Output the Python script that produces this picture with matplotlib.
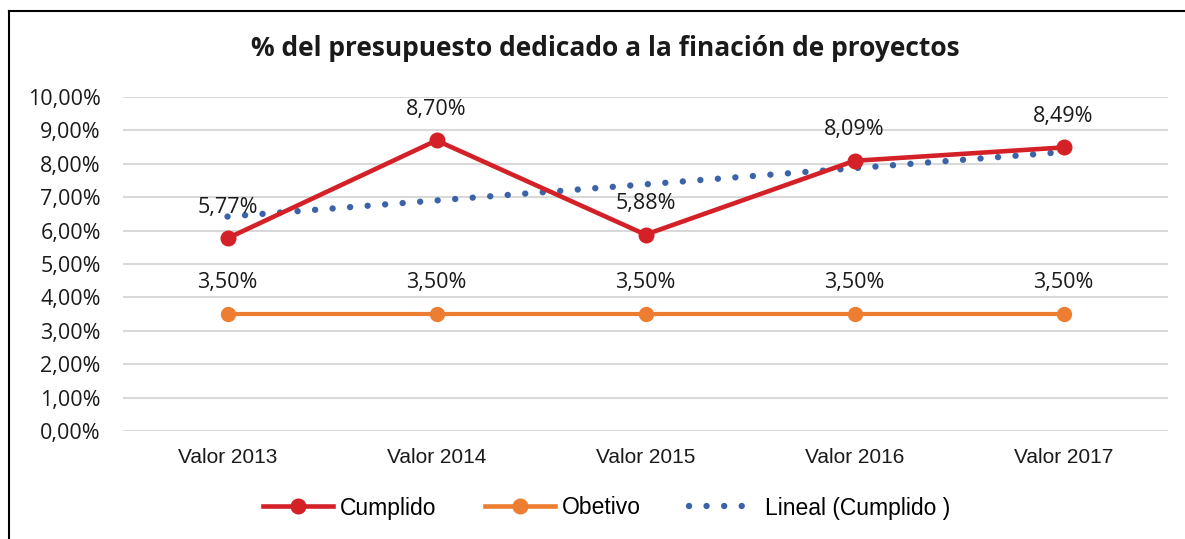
import numpy as np
import matplotlib
matplotlib.use("Agg")
import matplotlib.pyplot as plt
from matplotlib.lines import Line2D
from matplotlib.ticker import FuncFormatter

categories = ["Valor 2013", "Valor 2014", "Valor 2015", "Valor 2016", "Valor 2017"]
cumplido = [5.77, 8.70, 5.88, 8.09, 8.49]
objetivo = [3.50, 3.50, 3.50, 3.50, 3.50]
title = "% del presupuesto dedicado a la finación de proyectos"

RED = "#D42027"
ORANGE = "#ED7D31"
BLUE = "#3B64A8"
GRID = "#D9D9D9"
LABEL_FONT = "Open Sans"
NARROW_FONT = ["Liberation Sans", "DejaVu Sans"]

fig = plt.figure(figsize=(11.85, 5.39), dpi=100)
W, H = 1185, 539
ax = fig.add_axes([123 / W, 1 - 431 / H, (1168 - 123) / W, (431 - 97) / H])

x = np.arange(len(categories))

# Linear trendline (least squares fit of Cumplido)
coef = np.polyfit(x, cumplido, 1)
trend = np.polyval(coef, x)
lw_dot = 4.6
ax.plot(x, trend, color=BLUE, lw=lw_dot, linestyle=(0, (0.01, 12.6 / lw_dot)),
        dash_capstyle="round", solid_capstyle="round", zorder=3)

ax.plot(x, objetivo, color=ORANGE, lw=3.0, marker="o", markersize=10, zorder=4)
ax.plot(x, cumplido, color=RED, lw=3.3, marker="o", markersize=10.5, zorder=5)

def fmt(v):
    return f"{v:.2f}".replace(".", ",") + "%"

for xi, v in zip(x, cumplido):
    ax.annotate(fmt(v), (xi, v), xytext=(0, 22.5), textcoords="offset points",
                ha="center", va="center", fontsize=15.5, family=LABEL_FONT, color="#1a1a1a", zorder=6)
for xi, v in zip(x, objetivo):
    ax.annotate(fmt(v), (xi, v), xytext=(0, 22.5), textcoords="offset points",
                ha="center", va="center", fontsize=15.5, family=LABEL_FONT, color="#1a1a1a", zorder=6)

ax.set_xlim(-0.5, len(categories) - 0.5)
ax.set_ylim(0, 10)
ax.set_yticks(np.arange(0, 11, 1))
ax.yaxis.set_major_formatter(FuncFormatter(lambda v, p: fmt(v)))
ax.set_xticks(x)
ax.set_xticklabels(categories, family=NARROW_FONT, fontsize=15)
for lab in ax.get_yticklabels():
    lab.set_family(LABEL_FONT)
    lab.set_fontsize(15.5)
ax.tick_params(axis="both", length=0, colors="#1a1a1a")
ax.tick_params(axis="y", pad=16)
ax.tick_params(axis="x", pad=12)
ax.grid(axis="y", color=GRID, lw=1.5)
ax.set_axisbelow(True)
for s in ax.spines.values():
    s.set_visible(False)

fig.text(605 / W, 1 - 48 / H, title, ha="center", va="center", fontsize=19,
         fontweight="bold", family=LABEL_FONT, color="#1a1a1a")

handles = [
    Line2D([], [], color=RED, lw=3.3, marker="o", markersize=10.5),
    Line2D([], [], color=ORANGE, lw=3.3, marker="o", markersize=10.5),
    Line2D([], [], color=BLUE, lw=lw_dot, linestyle=(0, (0.01, 12.6 / lw_dot)), dash_capstyle="round"),
]
leg = fig.legend(handles, ["Cumplido", "Obetivo", "Lineal (Cumplido )"], loc="center",
                 bbox_to_anchor=(607 / W, 1 - 508 / H), ncol=3, frameon=False,
                 prop={"family": NARROW_FONT, "size": 16.5}, handlelength=3.05,
                 handletextpad=0.3, columnspacing=2.1)

# Chart border (left and top)
fig.add_artist(Line2D([9 / W, 9 / W], [0, 1 - 11 / H], color="black", lw=1.5, transform=fig.transFigure))
fig.add_artist(Line2D([9 / W, 1], [1 - 11 / H, 1 - 11 / H], color="black", lw=1.5, transform=fig.transFigure))

fig.savefig("out.png", dpi=100, facecolor="white")
